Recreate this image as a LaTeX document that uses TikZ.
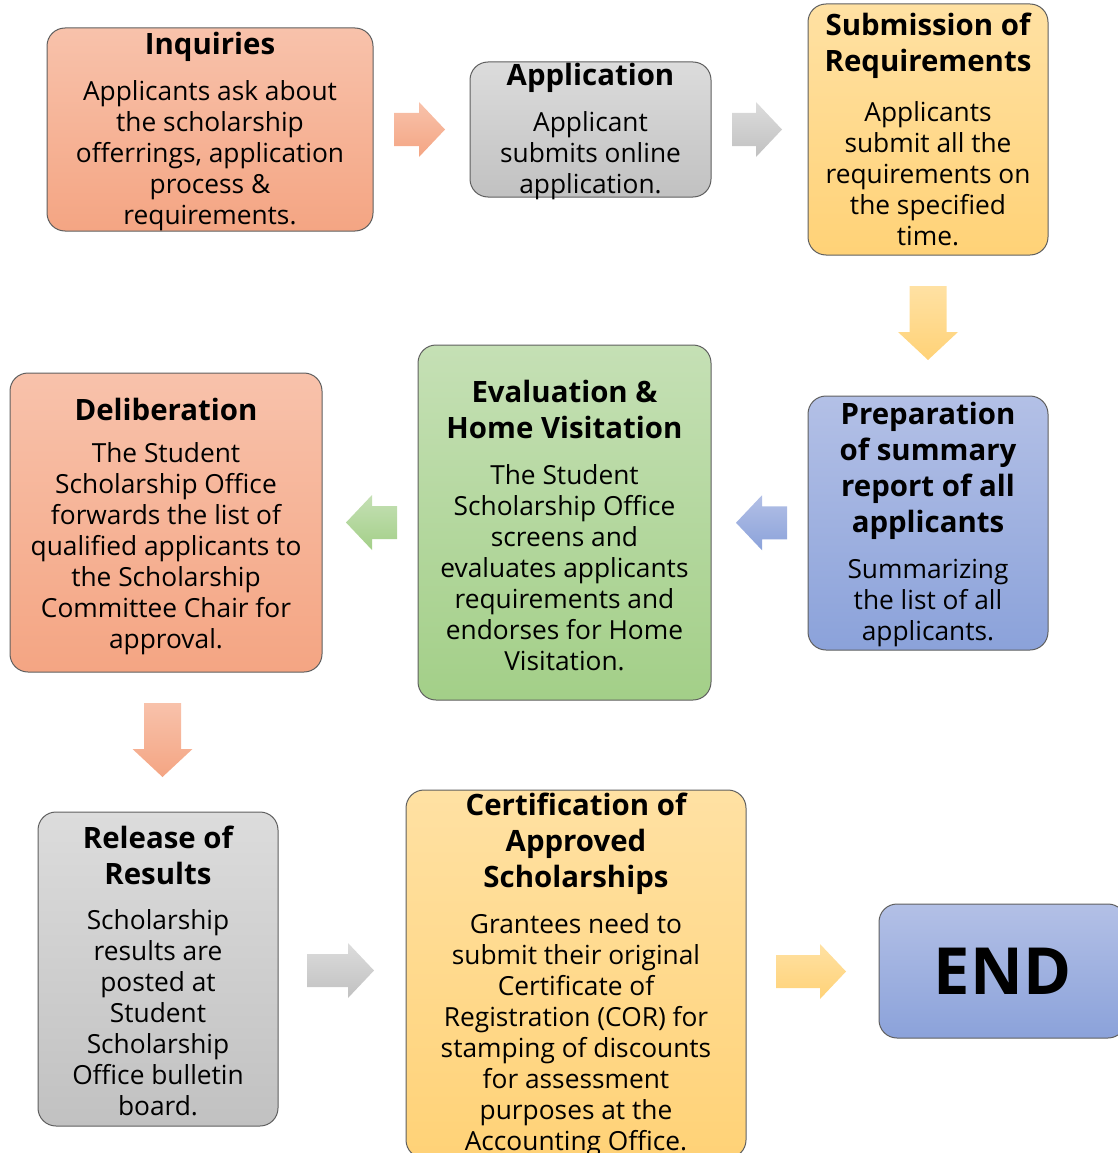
\documentclass[tikz,border=0pt]{standalone}
\usepackage{fontspec}
\setmainfont{Open Sans}
\usetikzlibrary{calc}
\definecolor{salmonT}{HTML}{F8C2AB}
\definecolor{salmonB}{HTML}{F4A583}
\definecolor{grayT}{HTML}{DCDCDC}
\definecolor{grayB}{HTML}{C1C1C1}
\definecolor{yellowT}{HTML}{FFE1A3}
\definecolor{yellowB}{HTML}{FFD277}
\definecolor{blueT}{HTML}{B3C0E6}
\definecolor{blueB}{HTML}{8BA2DA}
\definecolor{greenT}{HTML}{C5E0B5}
\definecolor{greenB}{HTML}{A3CF88}
\definecolor{boxline}{HTML}{5F5F5F}
\tikzset{
  box/.style={draw=boxline, line width=1pt, rounded corners=18pt, inner sep=0pt},
  salmonbox/.style={box, top color=salmonT, bottom color=salmonB},
  graybox/.style={box, top color=grayT, bottom color=grayB},
  yellowbox/.style={box, top color=yellowT, bottom color=yellowB},
  bluebox/.style={box, top color=blueT, bottom color=blueB},
  greenbox/.style={box, top color=greenT, bottom color=greenB},
  body/.style={align=center, inner sep=0pt, yshift=-3pt, font=\fontsize{26.3}{31}\selectfont},
  head/.style={align=center, inner sep=0pt, yshift=-3pt, font=\fontsize{29.4}{36}\selectfont\bfseries},
  pics/harrow/.style n args={3}{code={
    \shade[top color=#2, bottom color=#3]
      ({-#1/2},16.5) -- ({#1/2-26},16.5) -- ({#1/2-26},27.5) -- ({#1/2},0)
      -- ({#1/2-26},-27.5) -- ({#1/2-26},-16.5) -- ({-#1/2},-16.5) -- cycle;}},
  pics/varrow/.style n args={3}{code={
    \shade[top color=#2, bottom color=#3]
      (-18.5,{-#1/2}) -- (18.5,{-#1/2}) -- (18.5,{#1/2-28}) -- (30,{#1/2-28})
      -- (0,{#1/2}) -- (-30,{#1/2-28}) -- (-18.5,{#1/2-28}) -- cycle;}},
}
\begin{document}
\begin{tikzpicture}[x=1pt, y=-1pt]
\useasboundingbox (0,0) rectangle (1118,1153);
\clip (0,0) rectangle (1118,1153);
% boxes
\node[salmonbox, minimum width=326pt, minimum height=203pt] (inq) at (210,129.5) {};
\node[graybox, minimum width=241pt, minimum height=135pt] (app) at (590.5,129.5) {};
\node[yellowbox, minimum width=240pt, minimum height=251pt] (sub) at (928,129.5) {};
\node[bluebox, minimum width=240pt, minimum height=254pt] (prep) at (928,523) {};
\node[greenbox, minimum width=293pt, minimum height=355pt] (eval) at (564.5,522.5) {};
\node[salmonbox, minimum width=312pt, minimum height=299pt] (delib) at (166,522.5) {};
\node[graybox, minimum width=240pt, minimum height=314pt] (rel) at (158,969) {};
\node[yellowbox, minimum width=340pt, minimum height=368pt] (cert) at (576,974) {};
\node[bluebox, minimum width=247pt, minimum height=134pt] (end) at (1002.5,971) {};
% texts
\node[head] (inqH) at (210,44) {Inquiries};
\node[body] (inqB) at (210,152.5) {Applicants ask about\\the scholarship\\offerrings, application\\process \&\\requirements.};
\node[head] (appH) at (590.5,75) {Application};
\node[body] (appB) at (590.5,153) {Applicant\\submits online\\application.};
\node[head] (subH) at (928,43) {Submission of\\Requirements};
\node[body] (subB) at (928,170.5) {Applicants\\submit all the\\requirements on\\the specified\\time.};
\node[head] (prepH) at (928,468) {Preparation\\of summary\\report of all\\applicants};
\node[body] (prepB) at (928,600) {Summarizing\\the list of all\\applicants.};
\node[head] (evalH) at (564.5,406) {Evaluation \&\\Home Visitation};
\node[body] (evalB) at (564.5,564.5) {The Student\\Scholarship Office\\screens and\\evaluates applicants\\requirements and\\endorses for Home\\Visitation.};
\node[head] (delibH) at (166,406) {Deliberation};
\node[body] (delibB) at (166,546) {The Student\\Scholarship Office\\forwards the list of\\qualified applicants to\\the Scholarship\\Committee Chair for\\approval.};
\node[head] (relH) at (158,852) {Release of\\Results};
\node[body] (relB) at (158,1010) {Scholarship\\results are\\posted at\\Student\\Scholarship\\Office bulletin\\board.};
\node[head] (certH) at (576,841) {Certification of\\Approved\\Scholarships};
\node[body] (certB) at (576,1032.5) {Grantees need to\\submit their original\\Certificate of\\Registration (COR) for\\stamping of discounts\\for assessment\\purposes at the\\Accounting Office.};
\node[inner sep=0pt, font=\fontsize{65}{70}\selectfont\bfseries] (endT) at (1002.5,971) {END};
% block arrows
\pic at ($(inq.east)!.5!(app.west)+(-2,0)$) {harrow={51}{salmonT}{salmonB}};
\pic at ($(app.east)!.5!(sub.west)+(-2.5,0)$) {harrow={50}{grayT}{grayB}};
\pic at ($(sub.south)!.5!(prep.north)+(0,-2.5)$) {varrow={74}{yellowT}{yellowB}};
\pic[xscale=-1] at ($(prep.west)!.5!(eval.east)+(2,0)$) {harrow={51}{blueT}{blueB}};
\pic[xscale=-1] at ($(eval.west)!.5!(delib.east)+(1.5,0)$) {harrow={51}{greenT}{greenB}};
\pic at ($(delib.south)!.5!(rel.north)+(0.5,-2)$) {varrow={74}{salmonT}{salmonB}};
\pic at ($(rel.east)!.5!(cert.west)+(-1.5,-1)$) {harrow={67}{grayT}{grayB}};
\pic at ($(cert.east)!.5!(end.west)+(-1.5,-1)$) {harrow={70}{yellowT}{yellowB}};
\end{tikzpicture}
\end{document}
